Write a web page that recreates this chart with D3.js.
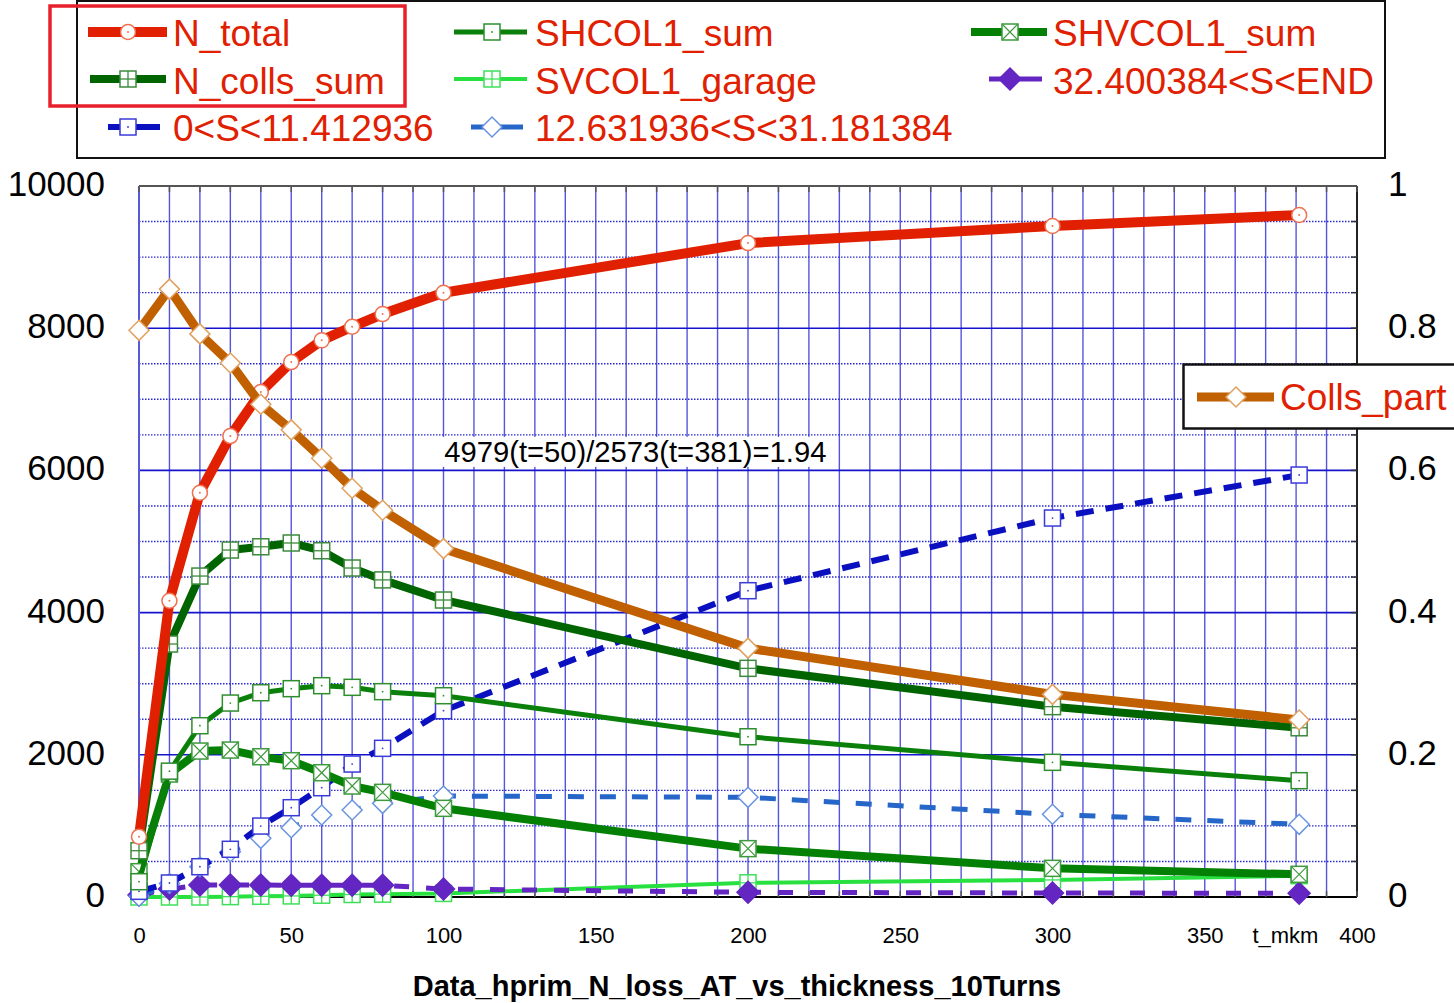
<!DOCTYPE html>
<html><head><meta charset="utf-8">
<script src="https://cdn.jsdelivr.net/npm/d3@7"></script>
<style>
body{margin:0;background:#fff}
svg{display:block}
text{font-family:"Liberation Sans",Arial,sans-serif}
</style>
</head><body>
<svg id="c" width="1454" height="1003"></svg>
<script>
// ---------- data ----------
const tValues      = [0, 10, 20, 30, 40, 50, 60, 70, 80, 100, 200, 300, 381];
const nTotal       = [848, 4167, 5686, 6483, 7102, 7524, 7829, 8020, 8199, 8498, 9197, 9437, 9592];
const nCollsSum    = [651, 3558, 4514, 4880, 4926, 4979, 4870, 4627, 4460, 4177, 3216, 2677, 2380];
const shcol1Sum    = [215, 1770, 2409, 2728, 2873, 2930, 2972, 2949, 2888, 2831, 2254, 1894, 1636];
const shvcol1Sum   = [356, 1730, 2053, 2067, 1973, 1917, 1748, 1561, 1472, 1247, 680, 403, 319];
const svcol1Garage = [0, 0, 0, 5, 10, 15, 25, 35, 40, 50, 200, 240, 300];
const s0to11       = [80, 197, 426, 671, 998, 1256, 1537, 1870, 2091, 2620, 4308, 5330, 5935];
const s12to31      = [10, 190, 426, 637, 825, 975, 1153, 1223, 1317, 1420, 1402, 1163, 1022];
const s32toEnd     = [28, 112, 169, 169, 169, 166, 166, 166, 166, 112, 66, 56, 52];
const collsPart    = [0.797, 0.855, 0.792, 0.751, 0.693, 0.657, 0.617, 0.575, 0.544, 0.490, 0.350, 0.285, 0.249];

const leftTicks  = [0, 2000, 4000, 6000, 8000, 10000];
const rightTicks = [0, 0.2, 0.4, 0.6, 0.8, 1];
const rightTickLabels = ["0", "0.2", "0.4", "0.6", "0.8", "1"];
const xTicks = [0, 50, 100, 150, 200, 250, 300, 350, 400];
const xUnitLabel = "t_mkm";
const xUnitPos = 376.5;
const annotationText = "4979(t=50)/2573(t=381)=1.94";
const annotationPos = [163, 6120];
const chartTitle = "Data_hprim_N_loss_AT_vs_thickness_10Turns";

// ---------- series styles ----------
const series = [
  {name:"SVCOL1_garage", vals:svcol1Garage, axis:"L", color:"#28e040", w:4, dash:null, mk:"sqplus", mkStroke:"#3ee05a", mkFill:"#fff"},
  {name:"32.400384<S<END", vals:s32toEnd, axis:"L", color:"#6326c2", w:5, dash:"15,17", mk:"diamondFill", mkStroke:"#6326c2", mkFill:"#6326c2"},
  {name:"12.631936<S<31.181384", vals:s12to31, axis:"L", color:"#2566c8", w:5, dash:"16,16", mk:"diamond", mkStroke:"#6a94e0", mkFill:"#fff"},
  {name:"0<S<11.412936", vals:s0to11, axis:"L", color:"#0a10c0", w:6, dash:"18,12", mk:"sqdot", mkStroke:"#3a3ad8", mkFill:"#fff"},
  {name:"SHVCOL1_sum", vals:shvcol1Sum, axis:"L", color:"#048004", w:8, dash:null, mk:"sqx", mkStroke:"#3d9a3d", mkFill:"#fff"},
  {name:"SHCOL1_sum", vals:shcol1Sum, axis:"L", color:"#0a800a", w:5, dash:null, mk:"sqdot", mkStroke:"#2e8e2e", mkFill:"#fff"},
  {name:"N_colls_sum", vals:nCollsSum, axis:"L", color:"#006400", w:8, dash:null, mk:"sqplus", mkStroke:"#3c8a3c", mkFill:"#fff"},
  {name:"N_total", vals:nTotal, axis:"L", color:"#e02000", w:10, dash:null, mk:"circle", mkStroke:"#f07050", mkFill:"#fff"},
  {name:"Colls_part", vals:collsPart, axis:"R", color:"#c06000", w:9, dash:null, mk:"diamond", mkStroke:"#e0a060", mkFill:"#fff"}
];
const byName = Object.fromEntries(series.map(s => [s.name, s]));

// ---------- scales ----------
const svg = d3.select("#c");
const x  = d3.scaleLinear().domain([0, 400]).range([139, 1357]);
const y  = d3.scaleLinear().domain([0, 10000]).range([897, 186]);
const y2 = d3.scaleLinear().domain([0, 1]).range([897, 186]);

// ---------- grid ----------
const grid = svg.append("g");
d3.range(10, 400, 10).forEach(t => {
  grid.append("line").attr("x1", x(t)).attr("x2", x(t)).attr("y1", y(10000)).attr("y2", y(0))
    .attr("stroke", "#3030d4").attr("stroke-opacity", 0.82).attr("stroke-width", 1.4);
});
d3.range(500, 10000, 500).forEach(v => {
  const major = v % 2000 === 0;
  grid.append("line").attr("x1", x(0)).attr("x2", x(400)).attr("y1", y(v)).attr("y2", y(v))
    .attr("stroke", major ? "#1414cc" : "#2a2ad0")
    .attr("stroke-width", major ? 1.6 : 1.4)
    .attr("stroke-dasharray", major ? null : "1.5,1.5");
});

// annotation background (hides grid)
const ann = svg.append("g");
const annX = x(annotationPos[0]), annY = y(annotationPos[1]);

// frame
svg.append("line").attr("x1", x(0)).attr("x2", x(400)).attr("y1", y(10000)).attr("y2", y(10000)).attr("stroke", "#555").attr("stroke-width", 2);
svg.append("line").attr("x1", x(0)).attr("x2", x(0)).attr("y1", y(10000)).attr("y2", y(0)).attr("stroke", "#5858d8").attr("stroke-width", 2);
svg.append("line").attr("x1", x(400)).attr("x2", x(400)).attr("y1", y(10000)).attr("y2", y(0)).attr("stroke", "#222").attr("stroke-width", 2);
svg.append("line").attr("x1", x(0)).attr("x2", x(400)).attr("y1", y(0)).attr("y2", y(0)).attr("stroke", "#000").attr("stroke-width", 2);
d3.range(0, 401, 10).forEach(t => {
  svg.append("line").attr("x1", x(t)).attr("x2", x(t)).attr("y1", y(10000)).attr("y2", y(10000) + 6).attr("stroke", "#555").attr("stroke-width", 1.5);
  svg.append("line").attr("x1", x(t)).attr("x2", x(t)).attr("y1", y(0)).attr("y2", y(0) - 6).attr("stroke", "#555").attr("stroke-width", 1.5);
});
d3.range(0.05, 1, 0.05).forEach(v => {
  svg.append("line").attr("x1", x(400) - 6).attr("x2", x(400)).attr("y1", y2(v)).attr("y2", y2(v)).attr("stroke", "#333").attr("stroke-width", 1.5);
});

// annotation
ann.raise();
const annText = ann.append("text").attr("x", annX).attr("y", annY).attr("text-anchor", "middle")
  .attr("font-size", 29.2).attr("fill", "#000").text(annotationText);
const bb = annText.node().getBBox();
ann.insert("rect", "text").attr("x", bb.x - 3).attr("y", bb.y + 1).attr("width", bb.width + 6).attr("height", bb.height - 2).attr("fill", "#fff");

// ---------- axes ----------
const axL = svg.append("g").attr("transform", `translate(${x(0)},0)`)
  .call(d3.axisLeft(y).tickValues(leftTicks).tickSize(0).tickPadding(34).tickFormat(d3.format("d")));
axL.select(".domain").remove();
axL.selectAll("text").attr("font-size", 35).attr("dy", "0.27em").attr("fill", "#000")
  .style("font-family", '"Liberation Sans",Arial,sans-serif');

const axR = svg.append("g").attr("transform", `translate(${x(400)},0)`)
  .call(d3.axisRight(y2).tickValues(rightTicks).tickSize(0).tickPadding(31).tickFormat((d, i) => rightTickLabels[i]));
axR.select(".domain").remove();
axR.selectAll("text").attr("font-size", 35).attr("dy", "0.27em").attr("fill", "#000")
  .style("font-family", '"Liberation Sans",Arial,sans-serif');

const axB = svg.append("g").attr("transform", `translate(0,${y(0)})`)
  .call(d3.axisBottom(x).tickValues(xTicks).tickSize(0).tickPadding(30).tickFormat(d3.format("d")));
axB.select(".domain").remove();
axB.selectAll("text").attr("font-size", 22).attr("fill", "#000")
  .style("font-family", '"Liberation Sans",Arial,sans-serif');
svg.append("text").attr("x", x(xUnitPos)).attr("y", 943).attr("text-anchor", "middle")
  .attr("font-size", 22).attr("fill", "#000").text(xUnitLabel);

svg.append("text").attr("x", 737).attr("y", 996).attr("text-anchor", "middle")
  .attr("font-size", 29).attr("font-weight", "bold").attr("fill", "#000").text(chartTitle);

// ---------- markers ----------
function marker(g, type, cx, cy, stroke, fill) {
  const h = 8;
  if (type === "circle") {
    g.append("circle").attr("cx", cx).attr("cy", cy).attr("r", 7.5).attr("fill", fill).attr("stroke", stroke).attr("stroke-width", 1.5);
    g.append("circle").attr("cx", cx).attr("cy", cy).attr("r", 1).attr("fill", stroke);
  } else if (type.startsWith("sq")) {
    g.append("rect").attr("x", cx - h).attr("y", cy - h).attr("width", 2 * h).attr("height", 2 * h)
      .attr("fill", fill).attr("stroke", stroke).attr("stroke-width", 1.5);
    if (type === "sqplus") {
      g.append("line").attr("x1", cx).attr("x2", cx).attr("y1", cy - h).attr("y2", cy + h).attr("stroke", stroke).attr("stroke-width", 1.3);
      g.append("line").attr("x1", cx - h).attr("x2", cx + h).attr("y1", cy).attr("y2", cy).attr("stroke", stroke).attr("stroke-width", 1.3);
    } else if (type === "sqx") {
      g.append("line").attr("x1", cx - h).attr("x2", cx + h).attr("y1", cy - h).attr("y2", cy + h).attr("stroke", stroke).attr("stroke-width", 1.2);
      g.append("line").attr("x1", cx - h).attr("x2", cx + h).attr("y1", cy + h).attr("y2", cy - h).attr("stroke", stroke).attr("stroke-width", 1.2);
    } else if (type === "sqdot") {
      g.append("circle").attr("cx", cx).attr("cy", cy).attr("r", 0.9).attr("fill", stroke);
    }
  } else if (type === "diamond" || type === "diamondFill") {
    const r = type === "diamondFill" ? 11 : 10;
    g.append("path").attr("d", `M${cx},${cy - r}L${cx + r},${cy}L${cx},${cy + r}L${cx - r},${cy}Z`)
      .attr("fill", fill).attr("stroke", stroke).attr("stroke-width", 1.5);
  }
}

// ---------- series ----------
const plot = svg.append("g");
series.forEach(s => {
  const ys = s.axis === "R" ? y2 : y;
  const pts = tValues.map((t, i) => [t, s.vals[i]]);
  const line = d3.line().x(d => x(d[0])).y(d => ys(d[1]));
  plot.append("path").attr("d", line(pts)).attr("fill", "none").attr("stroke", s.color)
    .attr("stroke-width", s.w).attr("stroke-dasharray", s.dash).attr("stroke-linejoin", "round");
  const mg = plot.append("g");
  pts.forEach(p => marker(mg, s.mk, x(p[0]), ys(p[1]), s.mkStroke, s.mkFill));
});

// ---------- legends ----------
const lg = svg.append("g");
lg.append("rect").attr("x", 77).attr("y", 1).attr("width", 1308).attr("height", 157)
  .attr("fill", "none").attr("stroke", "#111").attr("stroke-width", 2);
lg.append("rect").attr("x", 50).attr("y", 6).attr("width", 355).attr("height", 100)
  .attr("fill", "none").attr("stroke", "#e8202a").attr("stroke-width", 3.5);

const legendItems = [
  {name:"N_total", x0:88, x1:167, m:128, tx:173, ly:32, ty:46},
  {name:"N_colls_sum", x0:90, x1:166, m:128, tx:173, ly:79, ty:94},
  {name:"0<S<11.412936", x0:108, x1:160, m:128, tx:173, ly:127, ty:141},
  {name:"SHCOL1_sum", x0:454, x1:527, m:492, tx:535, ly:32, ty:46},
  {name:"SVCOL1_garage", x0:454, x1:527, m:492, tx:535, ly:79, ty:94},
  {name:"12.631936<S<31.181384", x0:471, x1:523, m:492, tx:535, ly:127, ty:141},
  {name:"SHVCOL1_sum", x0:971, x1:1047, m:1010, tx:1053, ly:32, ty:46},
  {name:"32.400384<S<END", x0:989, x1:1042, m:1010, tx:1053, ly:79, ty:94}
];
function legendEntry(g, it) {
  const s = byName[it.name];
  if (s.dash) {
    g.append("line").attr("x1", it.x0).attr("x2", it.m - 6).attr("y1", it.ly).attr("y2", it.ly).attr("stroke", s.color).attr("stroke-width", s.w);
    g.append("line").attr("x1", it.m + 6).attr("x2", it.x1).attr("y1", it.ly).attr("y2", it.ly).attr("stroke", s.color).attr("stroke-width", s.w);
  } else {
    g.append("line").attr("x1", it.x0).attr("x2", it.x1).attr("y1", it.ly).attr("y2", it.ly).attr("stroke", s.color).attr("stroke-width", Math.min(s.w, 10));
  }
  marker(g, s.mk, it.m, it.ly, s.mkStroke, s.mkFill);
  g.append("text").attr("x", it.tx).attr("y", it.ty).attr("font-size", 37).attr("fill", "#e02000").text(s.name);
}
legendItems.forEach(it => legendEntry(lg, it));

const lg2 = svg.append("g");
lg2.append("rect").attr("x", 1183.5).attr("y", 364.5).attr("width", 290).attr("height", 64)
  .attr("fill", "#fff").attr("stroke", "#111").attr("stroke-width", 2.5);
legendEntry(lg2, {name:"Colls_part", x0:1197, x1:1274, m:1236, tx:1280, ly:397, ty:410});
</script>
</body></html>
